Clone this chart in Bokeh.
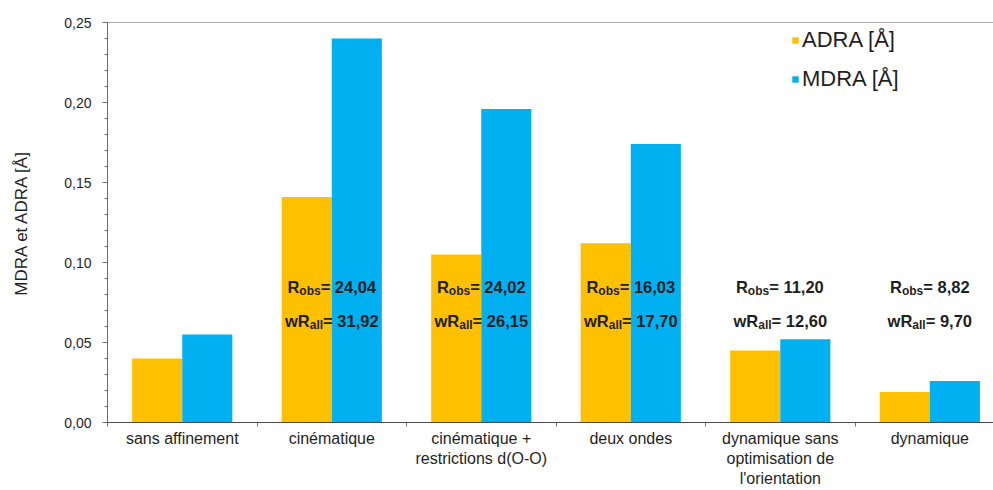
from bokeh.plotting import figure
from bokeh.models import (ColumnDataSource, Range1d, FixedTicker, SingleIntervalTicker,
                          CustomJSTickFormatter, Legend, LegendItem, Span)
from bokeh.core.properties import value
from bokeh.embed import file_html
from bokeh.resources import INLINE

# ---------------- data ----------------
categories = ["sans affinement", "cinématique", "cinématique +\nrestrictions d(O-O)",
              "deux ondes", "dynamique sans\noptimisation de\nl'orientation", "dynamique"]
adra = [0.040, 0.141, 0.105, 0.112, 0.045, 0.019]
mdra = [0.055, 0.240, 0.196, 0.174, 0.052, 0.026]
r_obs = [None, 24.04, 24.02, 16.03, 11.20, 8.82]
wr_all = [None, 31.92, 26.15, 17.70, 12.60, 9.70]
series_names = ["ADRA [Å]", "MDRA [Å]"]
y_label = "MDRA et ADRA [Å]"

FONT = "Liberation Sans"
YELLOW = "#FFC000"
BLUE = "#00B0F0"
AXIS_COL = "#6e6e6e"
TXT = "#1f1f1f"

n = len(categories)
centers = [i + 0.5 for i in range(n)]
bw = 0.335
off = bw / 2

p = figure(width=993, height=490, output_backend="svg", toolbar_location=None,
           x_range=Range1d(0, 5.926), y_range=Range1d(0, 0.25),
           min_border_left=107, min_border_right=0, min_border_top=22, min_border_bottom=10)
p.background_fill_color = "white"
p.border_fill_color = "white"
p.outline_line_color = None
p.xgrid.visible = False
p.ygrid.visible = False

src = ColumnDataSource(dict(xa=[c - off for c in centers], xb=[c + off for c in centers],
                            adra=adra, mdra=mdra))
ra = p.vbar(x="xa", top="adra", width=bw, bottom=0, source=src,
            fill_color=YELLOW, line_color=None)
rb = p.vbar(x="xb", top="mdra", width=bw, bottom=0, source=src,
            fill_color=BLUE, line_color=None)

# ---- x axis
xax = p.xaxis[0]
xax.ticker = FixedTicker(ticks=centers, minor_ticks=list(range(0, n + 1)))
xax.major_label_overrides = {c: lab for c, lab in zip(centers, categories)}
xax.major_tick_line_color = None
xax.major_tick_out = 0
xax.major_tick_in = 0
xax.minor_tick_out = 4
xax.minor_tick_in = 0
xax.minor_tick_line_color = AXIS_COL
xax.axis_line_color = "#4a4a4a"
xax.major_label_text_font = FONT
xax.major_label_text_font_size = "16px"
xax.major_label_text_color = TXT
xax.major_label_standoff = 3

# ---- y axis
yax = p.yaxis[0]
yax.ticker = SingleIntervalTicker(interval=0.05, num_minor_ticks=5)
yax.formatter = CustomJSTickFormatter(code="return tick.toFixed(2).replace('.', ',');")
yax.axis_line_color = AXIS_COL
yax.major_tick_line_color = AXIS_COL
yax.minor_tick_line_color = AXIS_COL
yax.major_tick_out = 5
yax.major_tick_in = 0
yax.minor_tick_out = 3
yax.minor_tick_in = 0
yax.major_label_text_font = FONT
yax.major_label_text_font_size = "14px"
yax.major_label_text_color = TXT
yax.major_label_standoff = 11
yax.axis_label = y_label
yax.axis_label_text_font = FONT
yax.axis_label_text_font_size = "17px"
yax.axis_label_text_font_style = "normal"
yax.axis_label_text_color = TXT
yax.axis_label_standoff = 30

# top border line
p.add_layout(Span(location=0.25, dimension="width", line_color="#555555", line_width=1))

# ---- R annotations (bold, with subscripts)
W = {'R': 0.722, 'w': 0.778, 'o': 0.611, 'b': 0.611, 's': 0.556, 'a': 0.556,
     'l': 0.278, '=': 0.584, ' ': 0.278, ',': 0.278}
for d in "0123456789":
    W[d] = 0.556


def tw(s, size):
    return sum(W.get(ch, 0.6) for ch in s) * size


MAIN, SUB = 16.5, 12
ann = dict(x=[], y=[], text=[], xo=[], yo=[], fs=[])
levels = [(0.0844, "R", "obs", r_obs), (0.0636, "wR", "all", wr_all)]
for i, c in enumerate(centers):
    for ylev, pre, sub, vals in levels:
        v = vals[i]
        if v is None:
            continue
        rest = "= " + f"{v:.2f}".replace(".", ",")
        total = tw(pre, MAIN) + tw(sub, SUB) + tw(rest, MAIN)
        x0 = -total / 2
        parts = [(pre, MAIN, 0), (sub, SUB, 4), (rest, MAIN, 0)]
        for txt, fs, yo in parts:
            ann["x"].append(c)
            ann["y"].append(ylev)
            ann["text"].append(txt)
            ann["xo"].append(x0)
            ann["yo"].append(yo)
            ann["fs"].append(f"{fs}px")
            x0 += tw(txt, fs)

asrc = ColumnDataSource(ann)
p.text(x="x", y="y", text="text", x_offset="xo", y_offset="yo", source=asrc,
       text_font=value(FONT), text_font_style="bold", text_font_size="fs",
       text_color=TXT, text_align="left", text_baseline="alphabetic")

# ---- legend
legend = Legend(items=[LegendItem(label=series_names[0], renderers=[ra]),
                       LegendItem(label=series_names[1], renderers=[rb])],
                location=(684, 330), orientation="vertical")
legend.glyph_width = 8
legend.glyph_height = 8
legend.label_standoff = 3
legend.spacing = 13
legend.padding = 0
legend.margin = 0
legend.border_line_color = None
legend.background_fill_alpha = 0
legend.label_text_font = FONT
legend.label_text_font_size = "22px"
legend.label_text_color = TXT
p.add_layout(legend)

open("out.html", "w").write(file_html(p, INLINE))
